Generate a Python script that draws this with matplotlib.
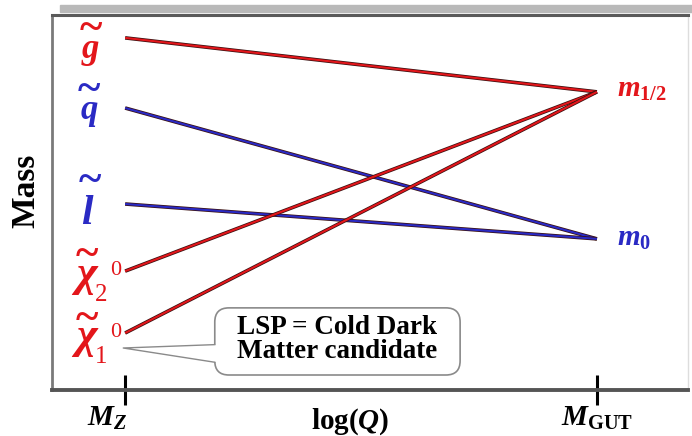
import matplotlib
matplotlib.use("Agg")
import matplotlib.pyplot as plt
import matplotlib.patheffects as pe
from matplotlib.patches import Rectangle, FancyBboxPatch, Polygon
from matplotlib.transforms import ScaledTranslation

# running masses at the two ends of the log(Q) scale (arbitrary units)
scale_pos = [0.0, 1.0]          # M_Z, M_GUT
symbols = ['g', 'q', 'l', 'χ', 'χ']
sub_idx = ['', '', '', '2', '1']
sup_idx = ['', '', '', '0', '0']
mass_at_mz = [93.9, 75.2, 49.6, 31.7, 15.2]
mass_at_gut = [79.5, 40.3, 40.3, 79.5, 79.5]
kinds = ['gaugino', 'scalar', 'scalar', 'gaugino', 'gaugino']

tick_pos = [0.0, 0.477, 1.0]
tick_labels = [r'$M_Z$', r'log($Q$)', r'$M_{\mathrm{GUT}}$']

RED = '#e3161b'
BLUE = '#2a2ac4'
GREY = '#8a8a8a'
colors = {'gaugino': RED, 'scalar': BLUE}

plt.rcParams['mathtext.fontset'] = 'custom'
plt.rcParams['mathtext.rm'] = 'Liberation Serif:bold'
plt.rcParams['mathtext.bf'] = 'Liberation Serif:bold'
plt.rcParams['mathtext.it'] = 'Liberation Serif:bold:italic'
plt.rcParams['font.family'] = 'Liberation Serif'
plt.rcParams['font.weight'] = 'bold'

fig = plt.figure(figsize=(6.92, 4.36), dpi=100)
ax = fig.add_axes([52 / 692, 46 / 436, 636 / 692, 375 / 436])
ax.set_xlim(-0.155, 1.193)
ax.set_ylim(0, 100)

# frame: dark left/top/bottom edges, faint right edge, shading bar on top
for side, (c, w) in {'left': ('#7a7a7a', 2.0), 'top': ('#5a5a5a', 2.2),
                     'bottom': ('#555555', 2.8), 'right': ('#dddddd', 1.0)}.items():
    ax.spines[side].set_color(c)
    ax.spines[side].set_linewidth(w)
fig.patches.append(Rectangle((60 / 692, 424 / 436), 632 / 692, 7 / 436,
                             transform=fig.transFigure, color='#b9b9b9',
                             zorder=0))

stroke = [pe.Stroke(linewidth=2.6, foreground='#3a1010'), pe.Normal()]
for m0, m1, kind in zip(mass_at_mz, mass_at_gut, kinds):
    ax.plot(scale_pos, [m0, m1], color=colors[kind], lw=1.5,
            solid_capstyle='butt', path_effects=stroke)


def px(dx, dy):
    # pixel offsets (right, down) -> offset points (right, up)
    return (dx * 0.72, -dy * 0.72)


# particle names next to the low-scale masses:
# (symbol centre dx, baseline dy, tilde dx, tilde baseline dy, font size)
label_geom = [(-35, 20, -34, 2, 25),
              (-36, 11, -36, -7, 25),
              (-38, 20, -35, -12, 30),
              (-39, 15, -38, -5, 32),
              (-39, 15, -38, -3, 32)]
for sym, sb, sp, m0, kind, g in zip(symbols, sub_idx, sup_idx, mass_at_mz,
                                    kinds, label_geom):
    cx, by, tx, ty, fs = g
    kw = dict(textcoords='offset points', color=colors[kind])
    ax.annotate(sym, (scale_pos[0], m0), xytext=px(cx, by), ha='center',
                va='baseline', fontsize=fs, fontstyle='italic', **kw)
    ax.annotate('~', (scale_pos[0], m0), xytext=px(tx, ty), ha='center',
                va='baseline', fontsize=31, **kw)
    if sb:
        ax.annotate(sb, (scale_pos[0], m0), xytext=px(-30, 30), ha='left',
                    va='baseline', fontsize=18, fontweight='normal', **kw)
        ax.annotate(sp, (scale_pos[0], m0), xytext=px(-15, 4), ha='left',
                    va='baseline', fontsize=16, fontweight='normal', **kw)

# universal masses at the GUT scale
ax.annotate(r'$m_{1/2}$', (scale_pos[1], mass_at_gut[0]), xytext=px(20, 5),
            textcoords='offset points', ha='left', va='baseline',
            fontsize=21, color=RED)
ax.annotate(r'$m_0$', (scale_pos[1], mass_at_gut[1]), xytext=px(20, 7),
            textcoords='offset points', ha='left', va='baseline',
            fontsize=21, color=BLUE)

# callout for the lightest neutralino: rounded box plus wedge pointing at it
box_x0, box_x1 = 0.19, 0.71
box_y0, box_y1 = 4.0, 21.9
ax.add_patch(FancyBboxPatch((box_x0, box_y0), box_x1 - box_x0, box_y1 - box_y0,
                            boxstyle='round,pad=0,rounding_size=0.03',
                            mutation_aspect=126, fc='white', ec=GREY, lw=1.2,
                            zorder=3))
tip = (scale_pos[0] - 0.004, mass_at_mz[4] - 4.0)
base_hi, base_lo = 12.1, 7.4
ax.add_patch(Polygon([tip, (box_x0 + 0.004, base_hi), (box_x0 + 0.004, base_lo)],
                     closed=True, fc='white', ec='none', zorder=4))
ax.plot([box_x0, tip[0], box_x0], [base_hi, tip[1], base_lo], color=GREY,
        lw=1.0, zorder=4)
ax.text((box_x0 + box_x1) / 2, (box_y0 + box_y1) / 2 + 0.4,
        'LSP = Cold Dark\nMatter candidate', ha='center', va='center',
        fontsize=19.5, fontweight='bold', linespacing=0.95, zorder=5)

ax.set_yticks([])
ax.set_xticks(tick_pos)
ax.set_xticklabels(tick_labels, fontsize=21)
ax.tick_params(axis='x', direction='inout', length=21, width=2.2,
               color='black', pad=0)
ax.xaxis.get_major_ticks()[1].tick1line.set_visible(False)
tl = ax.get_xticklabels()
tl[0].set_transform(tl[0].get_transform()
                    + ScaledTranslation(-0.18, 0, fig.dpi_scale_trans))
tl[1].set_transform(tl[1].get_transform()
                    + ScaledTranslation(0, -0.02, fig.dpi_scale_trans))
ax.set_ylabel('Mass', fontsize=24, fontweight='bold')
ax.yaxis.set_label_coords(-0.016, 0.53)

fig.savefig('out.png', dpi=100)
